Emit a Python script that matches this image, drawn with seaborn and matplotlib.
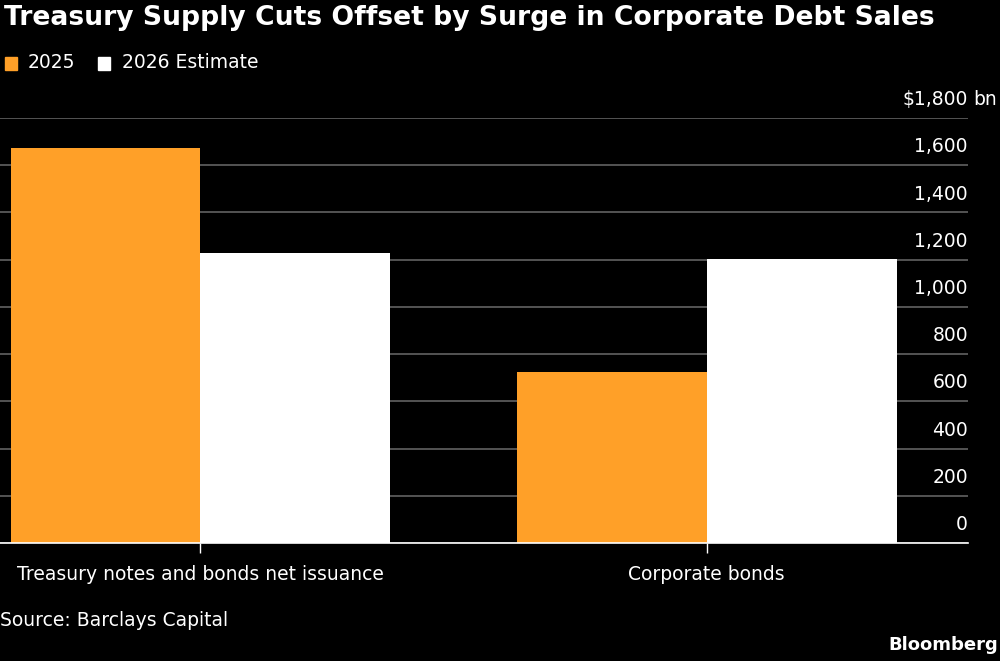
import pandas as pd
import matplotlib
matplotlib.use('Agg')
import matplotlib.pyplot as plt
import seaborn as sns

categories = ['Treasury notes and bonds net issuance', 'Corporate bonds']
series = ['2025', '2026 Estimate']
values_2025 = [1675, 726]
values_2026 = [1230, 1202]
y_ticks = [0, 200, 400, 600, 800, 1000, 1200, 1400, 1600, 1800]
colors = ['#FFA028', '#FFFFFF']

df = pd.DataFrame({
    'category': categories * 2,
    'series': [series[0]] * 2 + [series[1]] * 2,
    'value': values_2025 + values_2026,
})

sns.set_style('dark')
plt.rcParams['font.family'] = ['DejaVu Sans']

fig = plt.figure(figsize=(10, 6.61), dpi=100, facecolor='black')
ax = fig.add_axes([0.0, 1 - 543 / 661, 0.968, (543 - 118) / 661])
ax.set_facecolor('black')

sns.barplot(data=df, x='category', y='value', hue='series', palette=colors,
            width=0.75, saturation=1, legend=False, ax=ax, zorder=3,
            edgecolor='none', linewidth=0)

ax.set_ylim(0, 1800)
ax.set_xlim(-0.396, 1.516)
ax.set_yticks(y_ticks)
ax.yaxis.grid(True, color='#5a5a5a', linewidth=1.3, zorder=0)
ax.xaxis.grid(False)
ax.tick_params(axis='y', length=0, left=False, right=False, labelleft=False, labelright=False)
ax.tick_params(axis='x', bottom=True, direction='out', colors='white', length=7, width=1,
               labelsize=13.5, labelcolor='white', pad=9)
for s in ['top', 'right', 'left']:
    ax.spines[s].set_visible(False)
ax.spines['bottom'].set_color('white')
ax.spines['bottom'].set_linewidth(1.2)
ax.spines['bottom'].set_zorder(5)
ax.set_xlabel('')
ax.set_ylabel('')

for v in y_ticks:
    label = f'{v:,}'
    if v == 1800:
        label = '$1,800'
    ax.text(1.0, v + 78, label, transform=ax.get_yaxis_transform(),
            ha='right', va='center', color='white', fontsize=13.5, zorder=6)
ax.text(1.005, 1800 + 78, 'bn', transform=ax.get_yaxis_transform(),
        ha='left', va='center', color='white', fontsize=13.5)

fig.text(0.004, 1 - 18 / 661, 'Treasury Supply Cuts Offset by Surge in Corporate Debt Sales',
         color='white', fontsize=19.2, fontweight='heavy', va='center', ha='left')

# legend
fig.patches.append(plt.Rectangle((5 / 1000, 1 - 70 / 661), 12 / 1000, 13 / 661,
                                 transform=fig.transFigure, color=colors[0]))
fig.text(28 / 1000, 1 - 63 / 661, series[0], color='white', fontsize=13.5, va='center')
fig.patches.append(plt.Rectangle((98 / 1000, 1 - 70 / 661), 12 / 1000, 13 / 661,
                                 transform=fig.transFigure, color=colors[1]))
fig.text(122 / 1000, 1 - 63 / 661, series[1], color='white', fontsize=13.5, va='center')

fig.text(0.0, 1 - 621 / 661, 'Source: Barclays Capital', color='white', fontsize=13.5, va='center')
fig.text(0.998, 1 - 645 / 661, 'Bloomberg', color='white', fontsize=13, fontweight='bold',
         va='center', ha='right')

fig.savefig('out.png', dpi=100, facecolor='black')
